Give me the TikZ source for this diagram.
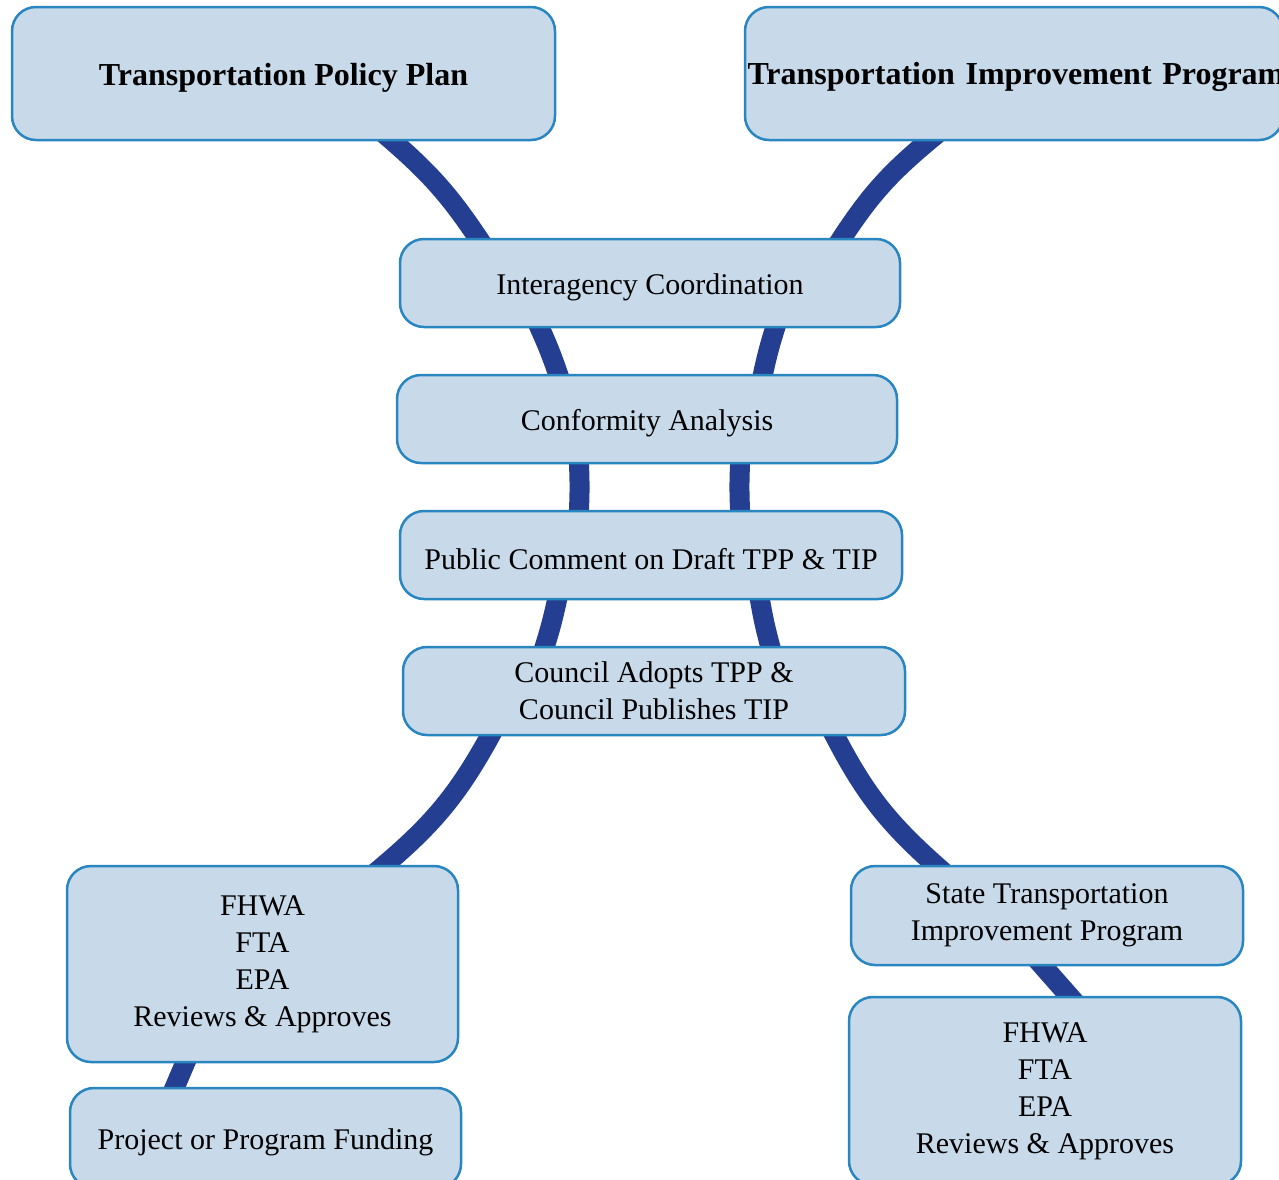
\documentclass[tikz,border=0pt]{standalone}
\usepackage{fontspec}
\setmainfont{Liberation Serif}
\usetikzlibrary{backgrounds}

\definecolor{boxfill}{HTML}{C8DAEA}
\definecolor{boxline}{HTML}{2A86C1}
\definecolor{linkblue}{HTML}{243F91}

\begin{document}
\begin{tikzpicture}[
  x=1pt, y=1pt,
  box/.style={draw=boxline, fill=boxfill, line width=2.5pt, rounded corners=24pt,
    align=center, inner sep=0pt, font=\fontsize{30}{37}\selectfont,
    execute at begin node={\rule{0pt}{30pt}}},
  title/.style={box, font=\fontsize{32}{38}\selectfont\bfseries},
  link/.style={linkblue, line width=20pt, shorten <=-12pt, shorten >=-12pt}
]
\useasboundingbox (0,0) rectangle (1279,-1179);
\clip (0,0) rectangle (1279,-1179);
\node [title, minimum width=543pt, minimum height=133pt] (tpp) at (283.5,-73.5) {Transportation Policy Plan};
\node [title, minimum width=538pt, minimum height=133pt, text width=533pt, align=left] (tip) at (1014,-73.5) {\mbox{Transportation Improvement Program}};
\node [box, minimum width=500pt, minimum height=88pt] (inter) at (650,-283) {Interagency Coordination};
\node [box, minimum width=500pt, minimum height=88pt] (conf) at (647,-419) {Conformity Analysis};
\node [box, minimum width=502pt, minimum height=88pt] (pub) at (651,-555) {Public Comment on Draft TPP \& TIP};
\node [box, minimum width=502pt, minimum height=88pt] (coun) at (654,-691) {Council Adopts TPP \&\\Council Publishes TIP};
\node [box, minimum width=391pt, minimum height=196pt] (fedl) at (262.5,-964) {FHWA\\FTA\\EPA\\Reviews \& Approves};
\node [box, minimum width=391pt, minimum height=100pt] (fund) at (265.5,-1138) {Project or Program Funding};
\node [box, minimum width=392pt, minimum height=99pt] (stip) at (1047,-915.5) {State Transportation\\Improvement Program};
\node [box, minimum width=392pt, minimum height=188pt] (fedr) at (1045,-1091) {FHWA\\FTA\\EPA\\Reviews \& Approves};
% left chain
\begin{scope}[on background layer]
\draw [link] ([xshift=109.5pt]tpp.south) to [bend left=8] ([xshift=-172pt]inter.north);
\draw [link] ([xshift=-110pt]inter.south) to [bend left=3] ([xshift=-89pt]conf.north);
\draw [link] ([xshift=-68pt]conf.south) to [bend left=3] ([xshift=-72pt]pub.north);
\draw [link] ([xshift=-94pt]pub.south) to [bend left=3] ([xshift=-109pt]coun.north);
\draw [link] ([xshift=-164pt]coun.south) to [bend left=11] ([xshift=122.5pt]fedl.north);
\draw [link] ([xshift=-77.5pt]fedl.south) -- ([xshift=-90.5pt]fund.north);
% right chain
\draw [link] ([xshift=-86pt]tip.south) to [bend right=9] ([xshift=192pt]inter.north);
\draw [link] ([xshift=125pt]inter.south) to [bend right=3] ([xshift=116pt]conf.north);
\draw [link] ([xshift=93pt]conf.south) to [bend right=3] ([xshift=89pt]pub.north);
\draw [link] ([xshift=109pt]pub.south) to [bend right=3] ([xshift=116pt]coun.north);
\draw [link] ([xshift=181pt]coun.south) to [bend right=11] ([xshift=-112pt]stip.north);
\draw [link] ([xshift=-4pt]stip.south) -- ([xshift=24pt]fedr.north);
\end{scope}
\end{tikzpicture}
\end{document}
